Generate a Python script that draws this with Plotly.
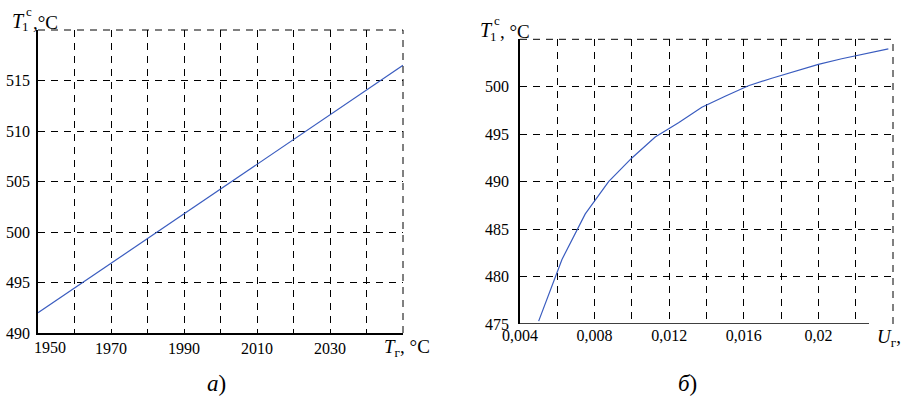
import plotly.graph_objects as go

# ---- data ----
# panel a): T1c vs Tg
tg_vals = [1950, 2050]
t1_a_vals = [492.0, 516.5]
a_xtick_vals = [1950, 1960, 1970, 1980, 1990, 2000, 2010, 2020, 2030, 2040, 2050]
a_xtick_text = ["", "", "1970", "", "1990", "", "2010", "", "2030", "", ""]
a_ytick_vals = [490, 495, 500, 505, 510, 515, 520]
a_ytick_text = ["490", "495", "500", "505", "510", "515", ""]

# panel б): T1c vs Ug
ug_vals = [0.005, 0.00625, 0.0075, 0.00875, 0.01, 0.01125, 0.0125, 0.01375,
           0.015, 0.01625, 0.0175, 0.01875, 0.02, 0.02125, 0.0225, 0.02375]
t1_b_vals = [475.3, 481.8, 486.6, 490.0, 492.5, 494.7, 496.2, 497.85,
             499.0, 500.1, 500.9, 501.6, 502.35, 502.95, 503.5, 504.0]
b_xtick_vals = [0.004, 0.006, 0.008, 0.010, 0.012, 0.014, 0.016, 0.018, 0.020, 0.022, 0.024]
b_xtick_text = ["0,004", "", "0,008", "", "0,012", "", "0,016", "", "0,02", "", ""]
b_ytick_vals = [475, 480, 485, 490, 495, 500, 505]
b_ytick_text = ["475", "480", "485", "490", "495", "500", ""]

FONT = "Liberation Serif, Times New Roman, serif"
LINE_COLOR = "#3a5cbf"
DASH = "7px,6px"

fig = go.Figure()
fig.add_trace(go.Scatter(x=tg_vals, y=t1_a_vals, mode="lines",
                         line=dict(color=LINE_COLOR, width=1.2),
                         xaxis="x", yaxis="y", showlegend=False))
fig.add_trace(go.Scatter(x=ug_vals, y=t1_b_vals, mode="lines",
                         line=dict(color=LINE_COLOR, width=1.2),
                         xaxis="x2", yaxis="y2", showlegend=False))

common_axis = dict(showgrid=True, gridcolor="black", gridwidth=1, griddash=DASH,
                   zeroline=False, ticks="", automargin=False,
                   tickfont=dict(family=FONT, size=16, color="black"),
                   tickmode="array")

fig.update_layout(
    width=904, height=396,
    margin=dict(l=0, r=0, t=0, b=0),
    paper_bgcolor="white", plot_bgcolor="white",
    font=dict(family=FONT, color="black"),
    xaxis=dict(domain=[38 / 904, 403 / 904], range=[1950, 2050],
               tickvals=a_xtick_vals, ticktext=a_xtick_text,
               showline=True, linecolor="black", linewidth=1.5,
               ticklabelstandoff=0,
               anchor="y", **common_axis),
    yaxis=dict(domain=[1 - 333 / 396, 1 - 30 / 396], range=[490, 520],
               tickvals=a_ytick_vals, ticktext=a_ytick_text,
               showline=True, linecolor="black", linewidth=1.5,
               ticklabelstandoff=3,
               anchor="x", **common_axis),
    xaxis2=dict(domain=[520 / 904, 893 / 904], range=[0.004, 0.024],
                tickvals=b_xtick_vals, ticktext=b_xtick_text,
                showline=False, ticklabelstandoff=0,
                anchor="y2", **common_axis),
    yaxis2=dict(domain=[1 - 324 / 396, 1 - 39.3 / 396], range=[475, 505],
                tickvals=b_ytick_vals, ticktext=b_ytick_text,
                showline=True, linecolor="black", linewidth=1.5,
                ticklabelstandoff=6,
                anchor="x2", **common_axis),
)

# dashed top/right borders (gridlines at the range ends)
for xr, yr in (("x", "y"), ("x2", "y2")):
    fig.add_shape(type="line", xref=f"{xr} domain", yref=f"{yr} domain",
                  x0=0, x1=1, y0=1, y1=1, line=dict(color="black", width=1, dash=DASH))
    fig.add_shape(type="line", xref=f"{xr} domain", yref=f"{yr} domain",
                  x0=1, x1=1, y0=0, y1=1, line=dict(color="black", width=1, dash=DASH))

# bottom axis line of panel б) (stops short of the last gridline)
fig.add_shape(type="line", xref="paper", yref="y2", x0=520 / 904, x1=869 / 904,
              y0=475, y1=475, line=dict(color="black", width=1.5))


def note(px, py, text, size, xanchor="left"):
    return dict(x=px / 904, y=1 - py / 396, xref="paper", yref="paper",
                xanchor=xanchor, yanchor="middle", text=text, showarrow=False,
                font=dict(family=FONT, size=size, color="black"))


ann = []
# 1950 tick label shifted right
ann.append(note(50, 347, "1950", 16, xanchor="center"))
# y titles
ann.append(note(10, 21, "<i>T</i>", 20))
ann.append(note(20, 27, "1", 13))
ann.append(note(24, 12, "c", 13))
ann.append(note(31, 22, ",°C", 19))

ann.append(note(478, 30, "<i>T</i>", 20))
ann.append(note(488, 36, "1", 13))
ann.append(note(492, 21, "c", 13))
ann.append(note(498, 31, ", °C", 19))

# x titles
ann.append(note(382, 348, "<i>T</i><sub>г</sub>, °C", 19))
ann.append(note(875, 338, "<i>U</i><sub>г</sub>,", 19))

# panel labels
ann.append(note(216, 383, "<i>а</i>)", 23, xanchor="center"))
ann.append(note(687, 383, "<i>б</i>)", 23, xanchor="center"))

fig.update_layout(annotations=ann)

fig.write_html("out.html")
